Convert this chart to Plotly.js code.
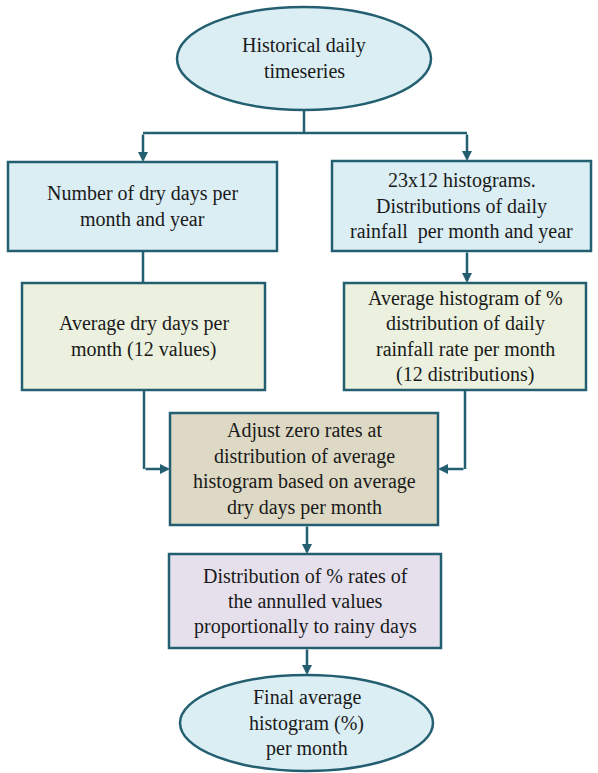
<!DOCTYPE html>
<html><head><meta charset="utf-8">
<script src="https://cdn.plot.ly/plotly-3.0.1.min.js"></script>
<style>body{margin:0;background:#fff}</style>
</head><body><div id="c"></div>
<script>
// Flowchart content (one entry per node, lines of each label)
const nodeLabels = [
  ["Historical daily","timeseries"],
  ["Number of dry days per","month and year"],
  ["23x12 histograms.","Distributions of daily","rainfall  per month and year"],
  ["Average dry days per","month (12 values)"],
  ["Average histogram of %","distribution of daily","rainfall rate per month","(12 distributions)"],
  ["Adjust zero rates at","distribution of average","histogram based on average","dry days per month"],
  ["Distribution of % rates of","the annulled values","proportionally to rainy days"],
  ["Final average","histogram (%)","per month"]
];
const nodeShapes = ["circle","rect","rect","rect","rect","rect","rect","circle"];

// layout geometry (pixels)
const geom = [
  [177,7,431,110],
  [8,162,277,251],
  [332,161,591,251],
  [22,283,265,390],
  [344,283,586,390],
  [170,413,438,525],
  [169,554,441,648],
  [180,675,433,771]
];
const fills = ["#dbeef4","#dbeef4","#dbeef4","#ebf1de","#ebf1de","#ddd9c4","#e5e0ec","#dbeef4"];
const edge = "#235f70";
const FAM = "'Liberation Serif', 'Times New Roman', serif";
const LINE = 25.5;

const shapes = [];
const annotations = [];
nodeLabels.forEach((lines,i)=>{
  const g = geom[i];
  shapes.push({type:nodeShapes[i], xref:"x", yref:"y", x0:g[0], y0:g[1], x1:g[2], y1:g[3],
    fillcolor:fills[i], line:{color:edge, width:2.5}, layer:"below"});
  const cx=(g[0]+g[2])/2, cy=(g[1]+g[3])/2, n=lines.length;
  lines.forEach((t,k)=>{
    annotations.push({x:cx, y:cy+(k-(n-1)/2)*LINE, xref:"x", yref:"y", text:t,
      showarrow:false, font:{family:FAM, size:20, color:"#1a1a1a"}});
  });
});
const conn = [
  [304,110,304,133],[143,133,467,133],[143,251,143,283],
  [144,390,144,469],[465,390,465,469]
];
conn.forEach(l=>shapes.push({type:"line",xref:"x",yref:"y",x0:l[0],y0:l[1],x1:l[2],y1:l[3],
  line:{color:edge,width:2.5}}));
const arrows = [
  [143,133,143,162],[467,133,467,161],[467,251,467,283],
  [144,469,170,469],[465,469,438,469],[307,525,307,554],[307,648,307,675]
];
arrows.forEach(a=>annotations.push({x:a[2],y:a[3],ax:a[0],ay:a[1],xref:"x",yref:"y",axref:"x",ayref:"y",
  text:"",showarrow:true,arrowhead:2,arrowsize:0.8,arrowwidth:2.5,arrowcolor:edge,standoff:0}));

Plotly.newPlot("c",[],{
  width:598,height:773,margin:{l:0,r:0,t:0,b:0},
  font:{family:FAM},
  paper_bgcolor:"#fff",plot_bgcolor:"#fff",
  xaxis:{range:[0,598],visible:false},
  yaxis:{range:[773,0],visible:false},
  shapes:shapes, annotations:annotations, showlegend:false
},{displayModeBar:false});
</script></body></html>
